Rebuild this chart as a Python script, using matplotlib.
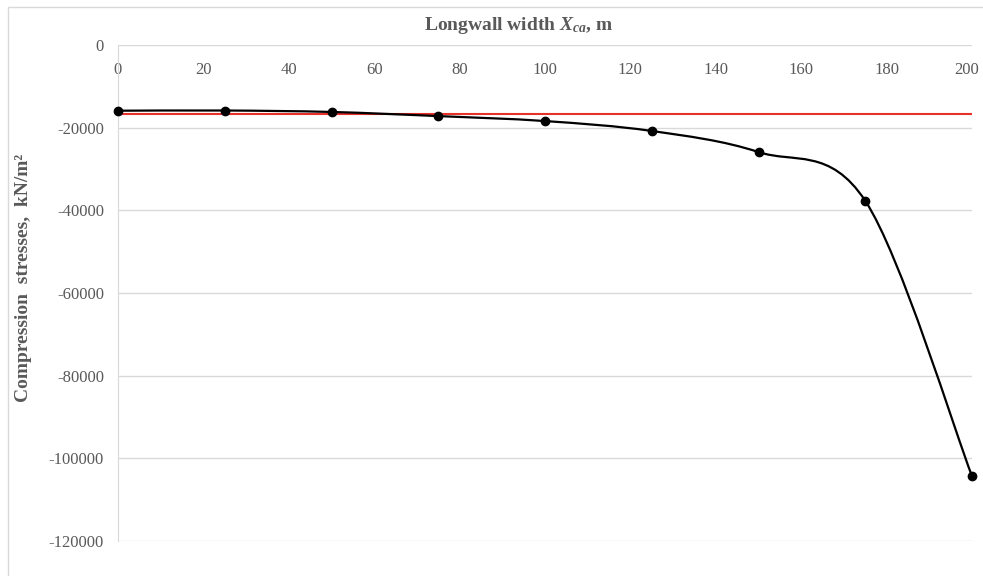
import numpy as np
import matplotlib
matplotlib.use("Agg")
from matplotlib import pyplot as plt
from matplotlib.path import Path
from matplotlib.patches import PathPatch, Rectangle
from matplotlib.transforms import ScaledTranslation

plt.rcParams['font.family'] = ['Liberation Serif', 'DejaVu Serif']
plt.rcParams['mathtext.fontset'] = 'custom'
plt.rcParams['mathtext.rm'] = 'Liberation Serif:bold'
plt.rcParams['mathtext.it'] = 'Liberation Serif:italic:bold'
plt.rcParams['axes.unicode_minus'] = False

# longwall width, m and compression stresses, kN/m2
width = [0, 25, 50, 75, 100, 125, 150, 175, 200]
stress = [-15900, -15850, -16200, -17200, -18400, -20800, -25900, -37700, -104300]
limit_stress = -16700

x_ticks = list(range(0, 201, 20))
y_ticks = list(range(-120000, 1, 20000))


def smooth_path(xs, ys):
    # cubic bezier through every point, tangents from neighbours
    pts = np.column_stack([xs, ys]).astype(float)
    n = len(pts)
    verts = [pts[0]]
    codes = [Path.MOVETO]
    for i in range(n - 1):
        p0 = pts[i - 1] if i > 0 else pts[i]
        p1 = pts[i]
        p2 = pts[i + 1]
        p3 = pts[i + 2] if i + 2 < n else pts[i + 1]
        c1 = p1 + (p2 - p0) / 6.0
        c2 = p2 - (p3 - p1) / 6.0
        verts += [c1, c2, p2]
        codes += [Path.CURVE4] * 3
    return Path(verts, codes)


fig = plt.figure(figsize=(9.83, 5.76), dpi=100)
# chart frame, only its top and left edges fall inside the image
fig.patches.append(Rectangle((8 / 983, -10 / 576), 1000 / 983, 579 / 576,
                             transform=fig.transFigure, fill=False,
                             edgecolor='#d9d9d9', linewidth=1))
ax = fig.add_axes([118 / 983, 35 / 576, 854 / 983, 496 / 576])

ax.set_xlim(0, 200)
ax.set_ylim(-120000, 0)
ax.set_xticks(x_ticks)
ax.set_yticks(y_ticks)
ax.grid(axis='y', color='#d9d9d9', linewidth=1)
ax.set_axisbelow(True)
for s in ['top', 'right', 'bottom']:
    ax.spines[s].set_visible(False)
ax.spines['left'].set_color('#d9d9d9')
ax.tick_params(length=0, colors='#595959', labelsize=12)
ax.tick_params(axis='x', labeltop=True, labelbottom=False, pad=-24)
ax.tick_params(axis='y', pad=10)

# keep the last width label inside the frame
last = ax.get_xticklabels(which='major')[-1]
last.set_transform(last.get_transform() + ScaledTranslation(-5 / 100, 0, fig.dpi_scale_trans))

ax.plot([0, 200], [limit_stress, limit_stress], color='#e8302a', lw=1.5, zorder=2)
ax.add_patch(PathPatch(smooth_path(width, stress), facecolor='none',
                       edgecolor='black', lw=1.6, zorder=3))
ax.plot(width, stress, 'o', color='black', ms=6, zorder=4, clip_on=False)

fig.text(519 / 983, 1 - 25 / 576, r'Longwall width $\mathit{X}_{\mathit{ca}}$, m',
         ha='center', va='center', fontsize=14, fontweight='bold', color='#595959')
fig.text(24 / 983, 1 - 278 / 576, 'Compression  stresses,  kN/m²', rotation=90,
         ha='center', va='center', fontsize=14, fontweight='bold', color='#595959')

fig.savefig('out.png', dpi=100)
